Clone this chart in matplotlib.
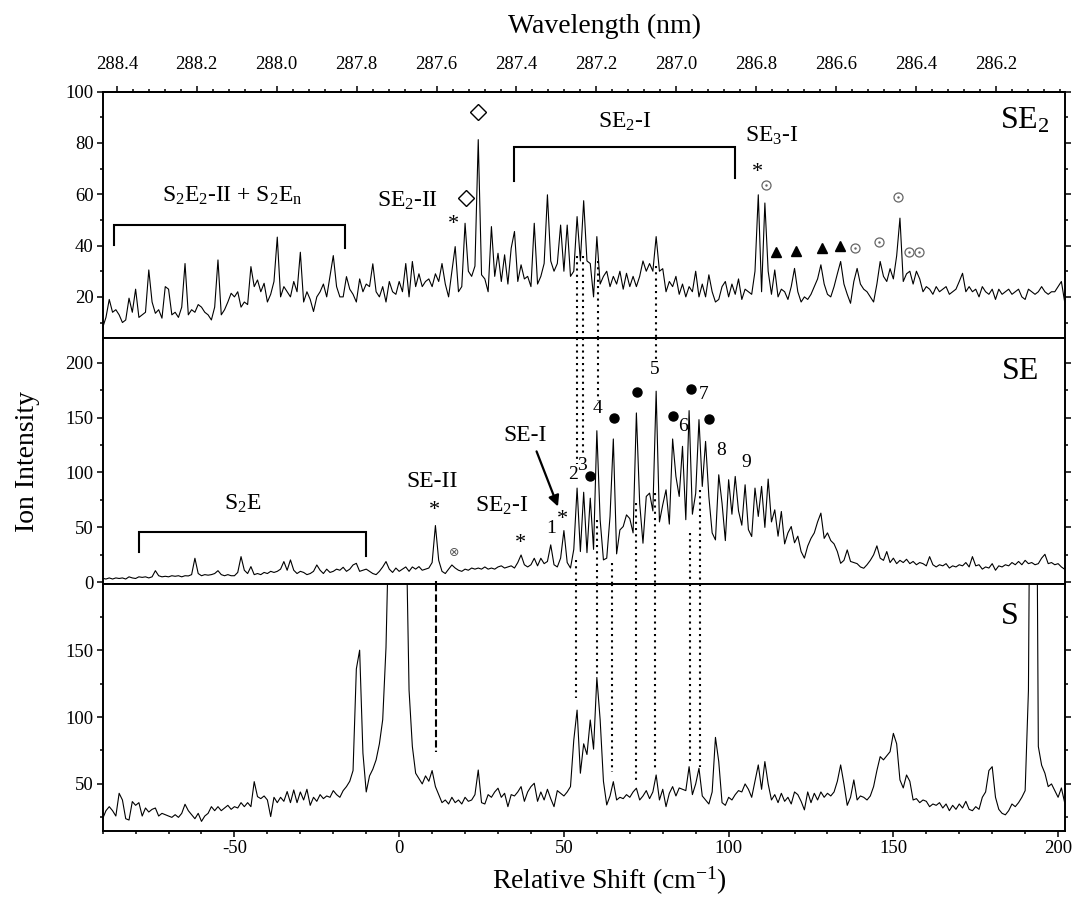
import numpy as np
import matplotlib
matplotlib.use("Agg")
import matplotlib.pyplot as plt
from matplotlib.ticker import MultipleLocator, FixedLocator, FormatStrFormatter

plt.rcParams["font.family"] = ["Liberation Serif", "DejaVu Serif"]
plt.rcParams["mathtext.fontset"] = "custom"
plt.rcParams["mathtext.rm"] = "Liberation Serif"
plt.rcParams["mathtext.it"] = "Liberation Serif:italic"
plt.rcParams["mathtext.default"] = "regular"
plt.rcParams["axes.unicode_minus"] = False

# relative shift grid (cm-1), one sample per wavenumber from -90 to 202
shift = np.arange(-90, 203)

# SE2 cluster spectrum
se2 = [
    8, 12, 19, 14, 15, 13, 10, 11, 19.5, 14,            # -90
    23, 12, 13, 14, 30.5, 18, 13.6, 15, 11.7, 24,       # -80
    23, 13, 14, 12, 16, 33, 13, 15, 14, 17,             # -70
    16, 14, 13, 11, 16, 34.4, 13, 15, 18, 21.4,         # -60
    20, 22, 16, 18, 17, 31.8, 24, 26.6, 22, 25.3,       # -50
    18, 21, 26, 43.3, 20, 24, 22, 20, 26, 22,           # -40
    37.4, 18, 22, 19, 14.3, 20, 22, 25, 20, 28,         # -30
    36.1, 24, 20, 20, 27.9, 23, 21, 18, 27, 22,         # -20
    25, 24, 32.9, 22, 20, 24, 18, 26, 22, 21,           # -10
    26, 22, 33, 20, 33.8, 24, 29, 24, 26, 27,           # 0
    24, 29, 26, 33, 25, 20, 30, 39.6, 22, 24,           # 10
    48.7, 30, 28, 32, 81.3, 28.6, 27, 22, 47.4, 28,     # 20
    37, 26, 36.4, 25, 39, 45.5, 26, 32.5, 27, 28,       # 30
    24, 48.7, 25, 28, 33, 59.8, 34, 30, 33, 48,         # 40
    30, 48, 28, 30, 51.3, 34, 57.5, 34, 33, 20,         # 50
    43.5, 25, 28, 30, 24, 28, 25, 30, 23, 29.2,         # 60
    24, 28, 24, 28, 34, 30, 33, 30, 43.5, 30,           # 70
    31, 22, 26, 24, 28, 21, 25, 20, 24, 22,             # 80
    30, 20, 25, 20, 28.6, 22, 18, 19, 24, 26,           # 90
    20, 25, 21, 27, 19, 23, 22, 21, 30, 59.8,           # 100
    22, 56.6, 30, 21, 30.5, 20, 23, 22, 19, 24,         # 110
    31.1, 22, 18, 20, 19, 21, 24, 27, 32.5, 25,         # 120
    21, 20, 24, 29, 33.8, 25, 21, 17.5, 26, 31.1,       # 130
    25, 23, 22, 20, 18, 25, 33.8, 28, 26, 31,           # 140
    27, 36, 50.7, 26, 29, 30, 25, 30, 27, 22,           # 150
    24, 23, 21, 24, 22, 23, 24, 21, 22, 23,             # 160
    26, 29.2, 22, 24, 22, 23, 20, 24, 22, 21,           # 170
    23, 19, 23, 21, 22, 23, 21, 22, 23, 20,             # 180
    19, 23, 22, 21, 22, 24, 22, 21, 22, 22,             # 190
    24, 26, 18,                                         # 200
]

# SE cluster spectrum
se = [
    3.6, 3, 4, 3, 4, 3.5, 4, 3, 5, 4,                   # -90
    3.5, 5, 4.5, 5, 4, 5, 10.6, 6, 5, 5.5,              # -80
    5, 6, 5.5, 6, 5, 6, 5.8, 7, 21.9, 8,                # -70
    6, 7, 6.5, 7, 8, 10.6, 7, 6, 7, 6,                  # -60
    6, 9, 23.4, 11, 8, 14.3, 7, 8, 7, 9,                # -50
    8, 10, 9, 10, 12, 18.9, 11, 20.4, 11, 8,            # -40
    10, 9, 7, 8, 10, 15.8, 11, 8, 12, 9,                # -30
    10, 12, 11, 13.7, 10, 12, 15.8, 17.3, 10, 11,       # -20
    12, 10, 8, 7, 10, 14, 18.9, 12, 9, 13,              # -10
    10, 12, 14, 10, 14, 12, 14.3, 11, 12, 13,           # 0
    18, 51.7, 20, 10, 8, 12, 15.8, 13, 11, 10,          # 10
    12, 11, 13, 12, 13, 12, 14, 12, 13, 12,             # 20
    14, 15, 13, 14, 15, 13, 18, 24.9, 16, 14,           # 30
    16, 21.9, 15, 21.9, 17, 19, 34.1, 16, 14, 22,       # 40
    47.1, 18, 13, 30, 85.8, 28, 82, 27, 76.6, 30,       # 50
    138, 56.9, 20.4, 22, 60, 130.5, 25.9, 47.7, 50.8, 61.4,   # 60
    58, 45, 154.2, 72, 35.6, 78.2, 81.2, 65, 174, 55,   # 70
    70.6, 84.2, 53, 130.5, 96.4, 78.2, 123.8, 57, 156.3, 62,  # 80
    81, 148.1, 87.3, 128.3, 78, 45, 38.6, 97.9, 72, 38,       # 90
    93.4, 62, 96.4, 65, 52, 88.8, 48, 41.7, 85.8, 60,   # 100
    87.3, 50, 94, 55, 66, 42, 64.5, 35, 45, 50.8,       # 110
    36, 42, 28, 22, 33, 40, 45, 55, 63, 40,             # 120
    45, 38, 35, 28, 17.3, 20, 29.5, 19, 18, 17,         # 130
    14, 12.8, 16, 20, 25, 33.2, 22, 20, 28, 18,         # 140
    22, 17, 20, 18, 21, 17, 19, 16, 18, 17,             # 150
    15, 23.4, 16, 14, 16, 15, 17, 13, 15, 14,           # 160
    16, 15, 18, 14, 23.4, 15, 16, 12, 14, 13,           # 170
    17, 11, 15, 14, 16, 15, 18, 16, 19, 16,             # 180
    20, 17, 18, 16, 17, 22, 25.5, 17, 18, 16,           # 190
    17, 14, 11.9,                                       # 200
]

# S monomer spectrum (peaks at 0 and 192 run off scale)
s_mono = [
    24, 30, 33, 30, 26, 43, 38, 24, 23, 36.8,           # -90
    34, 36, 26, 32, 29, 31, 32, 26, 28, 27,             # -80
    26, 25, 27, 25, 28, 34.8, 30, 27, 24, 28,           # -70
    22, 26, 28, 33, 30, 33, 30, 32, 34, 31,             # -60
    33, 32, 36, 33, 36, 33, 51.7, 40.5, 39, 41,         # -50
    38, 25.6, 40, 36, 40, 37, 44.3, 36, 45.5, 36,       # -40
    44, 38, 46, 34, 40, 37, 42, 39, 41, 40,             # -30
    45, 42, 40, 45, 48, 52, 60, 136, 150, 73,           # -20
    44, 56, 61, 68, 80, 98, 152, 260, 500, 800,         # -10
    900, 700, 260, 120, 78, 58, 54, 50, 56, 52,         # 0
    60, 48, 42, 36, 38, 35, 40, 36, 38, 35,             # 10
    40, 37, 38, 42, 60.4, 36, 35, 42, 40, 44,           # 20
    46.8, 40, 43, 33, 42, 41, 44, 48, 37, 44,           # 30
    48, 50.5, 37, 44, 38, 46, 39, 33, 45, 43,           # 40
    41, 44, 48, 82.8, 105.2, 58, 80, 72, 97.8, 76,      # 50
    129.6, 98, 52, 34.3, 41, 51.7, 38, 40, 39, 42,      # 60
    40, 44, 46.8, 38, 41, 45, 39, 44, 56.7, 38,         # 70
    46, 33, 43, 48, 41, 47, 46, 45, 62.9, 42,           # 80
    50, 61.7, 41, 38, 35, 44, 84.8, 66.7, 36, 34,       # 90
    40, 38, 42, 45, 44, 50, 46, 40, 52, 64.2,           # 100
    46, 66.7, 50, 38, 42, 36, 43, 37, 40, 35,           # 110
    44, 42, 37, 30.6, 44, 36, 43, 38, 44, 40,           # 120
    43, 41, 44, 52, 64.2, 50, 34, 40, 53, 38,           # 130
    41, 40, 38, 41, 48, 60, 70.4, 68, 71, 74.1,         # 140
    87.8, 80, 53, 47, 56.7, 52, 38, 39, 36, 38,         # 150
    37, 33, 35, 34, 36, 32, 35, 30, 34, 31,             # 160
    35, 32, 37, 31, 30, 33, 31, 40, 44, 60,             # 170
    62.9, 40, 31, 28, 26.9, 30, 35, 33, 36, 40,         # 180
    45, 120, 500, 500, 78, 64, 58, 48, 50, 45,          # 190
    40, 47, 36,                                         # 200
]

# wavelength ticks for the top axis (nm)
nm_ticks = [288.4, 288.2, 288.0, 287.8, 287.6, 287.4, 287.2, 287.0,
            286.8, 286.6, 286.4, 286.2]

# peak markers (shift, intensity)
diamond_x, diamond_y = [20.2, 23.8], [58.4, 91.9]
triangle_x = [114.5, 120.3, 128.2, 133.9]
triangle_y = [37.4, 38.0, 38.9, 39.8]
ring_x = [111.2, 138.3, 145.6, 151.3, 154.7, 157.9]
ring_y = [63.7, 39.0, 41.3, 58.9, 37.6, 37.4]
dot_x = [58.0, 65.2, 72.2, 83.1, 88.5, 93.9]
dot_y = [96.4, 149.6, 173.6, 151.7, 176.4, 149.0]

# numbered SE progression labels (text, shift, baseline)
se_numbers = [("1", 46.2, 45.3), ("2", 52.8, 94.3), ("3", 55.5, 102.6),
              ("4", 60.1, 153.7), ("5", 77.6, 190.0), ("6", 86.1, 137.5),
              ("7", 92.4, 166.5), ("8", 97.8, 115.6), ("9", 105.2, 104.7)]

# correlation lines between the panels
top_link_x = [54.0, 55.8, 60.4, 78.1]
top_link_from = [36, 36, 34, 32]
top_link_to = [108, 115, 165, 200]
mid_link_x = [53.6, 60.1, 64.5, 72.0, 77.6, 88.4, 91.2]
mid_link_from = [20, 57, 17.6, 72.3, 81.4, 45, 84.2]
mid_link_to = [114, 130, 59, 53, 62, 64, 63]
dash_x, dash_to = 11.1, 74

XMIN, XMAX = -90, 202
DOT = (0, (1, 2))
DASH = (0, (3.5, 1.5))
TICK_FS = 13.5


def shift_to_nm(s):
    return 288.4 - (np.asarray(s) + 85.71) / 121.32


def nm_to_shift(lam):
    return (288.4 - np.asarray(lam)) * 121.32 - 85.71


def style_axis(ax, ylim, major, minor, last=False):
    ax.set_xlim(XMIN, XMAX)
    ax.set_ylim(*ylim)
    ax.xaxis.set_major_locator(MultipleLocator(50))
    ax.xaxis.set_minor_locator(MultipleLocator(10))
    ax.yaxis.set_major_locator(MultipleLocator(major))
    ax.yaxis.set_minor_locator(MultipleLocator(minor))
    ax.yaxis.set_major_formatter(FormatStrFormatter("%d"))
    for sp in ax.spines.values():
        sp.set_linewidth(1.4)
    ax.tick_params(which="both", direction="out", left=True, right=True,
                   bottom=True, top=False, width=1.1, labelsize=TICK_FS,
                   labelbottom=last, pad=2)
    ax.tick_params(which="major", length=4.5)
    ax.tick_params(which="minor", length=2.5)


def bracket(ax, x0, x1, top, left_foot, right_foot):
    ax.plot([x0, x0, x1, x1], [left_foot, top, top, right_foot],
            color="k", lw=1.5, solid_joinstyle="miter")


fig = plt.figure(figsize=(10.75, 8.98), dpi=100)
L, W = 0.0955, 0.8949
ax_top = fig.add_axes([L, 0.6237, W, 0.2742])
ax_mid = fig.add_axes([L, 0.3497, W, 0.2740])
ax_bot = fig.add_axes([L, 0.0749, W, 0.2748])

for ax, vals in ((ax_top, se2), (ax_mid, se), (ax_bot, s_mono)):
    ax.plot(shift, vals, color="k", lw=0.8)

style_axis(ax_top, (4, 100), 20, 10)
style_axis(ax_mid, (-1.5, 222.5), 50, 25)
style_axis(ax_bot, (15, 199.5), 50, 25, last=True)

# wavelength scale along the top
sec = ax_top.secondary_xaxis("top", functions=(shift_to_nm, nm_to_shift))
sec.xaxis.set_major_locator(FixedLocator(nm_ticks))
sec.xaxis.set_minor_locator(FixedLocator(np.arange(286.04, 288.45, 0.04)))
sec.xaxis.set_major_formatter(FormatStrFormatter("%.1f"))
sec.tick_params(which="both", direction="out", width=1.1, labelsize=TICK_FS, pad=9)
sec.tick_params(which="major", length=4.5)
sec.tick_params(which="minor", length=2.5)
sec.spines["top"].set_linewidth(1.4)

# --- SE2 panel ---
ax_top.text(190, 85.8, "SE$_2$", fontsize=23, ha="center", va="baseline")
bracket(ax_top, -86.7, -16.5, 48.1, 40.3, 39.0)
bracket(ax_top, 34.8, 101.8, 78.4, 65.0, 66.3)
ax_top.text(-50.5, 57.2, "S$_2$E$_2$-II + S$_2$E$_n$", fontsize=17, ha="center", va="baseline")
ax_top.text(2.5, 55.2, "SE$_2$-II", fontsize=17, ha="center", va="baseline")
ax_top.text(68.4, 85.8, "SE$_2$-I", fontsize=17, ha="center", va="baseline")
ax_top.text(113, 80.6, "SE$_3$-I", fontsize=17, ha="center", va="baseline")
ax_top.text(16.4, 46.4, "*", fontsize=16, ha="center", va="baseline")
ax_top.text(108.7, 66.6, "*", fontsize=16, ha="center", va="baseline")
ax_top.plot(diamond_x, diamond_y, "D", mfc="none", mec="k", mew=1.0, ms=8)
ax_top.plot(triangle_x, triangle_y, "^", color="k", ms=7)
ax_top.plot(ring_x, ring_y, "o", mfc="none", mec="#666666", mew=0.9, ms=6.5)
ax_top.plot(ring_x, ring_y, ".", color="#666666", ms=1.5)

# --- SE panel ---
ax_mid.text(188.5, 185.4, "SE", fontsize=23, ha="center", va="baseline")
bracket(ax_mid, -78.9, -10.2, 46.2, 27.9, 24.3)
ax_mid.text(-47.6, 66, "S$_2$E", fontsize=17, ha="center", va="baseline")
ax_mid.text(10.0, 86.4, "SE-II", fontsize=17, ha="center", va="baseline")
ax_mid.text(31.2, 64.5, "SE$_2$-I", fontsize=17, ha="center", va="baseline")
ax_mid.text(38.3, 128.4, "SE-I", fontsize=17, ha="center", va="baseline")
ax_mid.annotate("", xy=(48.2, 69), xytext=(41.7, 119.2),
                arrowprops=dict(arrowstyle="-|>", color="k", lw=1.6,
                                mutation_scale=16, shrinkA=0, shrinkB=0))
for sx, sy in ((10.8, 61.5), (36.8, 31.0), (49.7, 53.0)):
    ax_mid.text(sx, sy, "*", fontsize=16, ha="center", va="baseline")
ax_mid.text(16.6, 27.4, "\u2297", family="DejaVu Sans", fontsize=9,
            color="#555555", ha="center", va="center")
ax_mid.plot(dot_x, dot_y, "o", color="k", ms=6.5)
for label, sx, sy in se_numbers:
    ax_mid.text(sx, sy, label, fontsize=14, ha="center", va="baseline")

# --- S panel ---
ax_bot.text(185.2, 169.2, "S", fontsize=23, ha="center", va="baseline")

# dotted correlation lines SE2 -> SE
for x, y0, y1 in zip(top_link_x, top_link_from, top_link_to):
    ax_top.plot([x, x], [y0, ax_top.get_ylim()[0]], color="k", lw=1.5, ls=DOT)
    ax_mid.plot([x, x], [ax_mid.get_ylim()[1], y1], color="k", lw=1.5, ls=DOT)

# dotted correlation lines SE -> S
for x, y0, y1 in zip(mid_link_x, mid_link_from, mid_link_to):
    ax_mid.plot([x, x], [y0, ax_mid.get_ylim()[0]], color="k", lw=1.5, ls=DOT)
    ax_bot.plot([x, x], [ax_bot.get_ylim()[1], y1], color="k", lw=1.5, ls=DOT)

# dashed line for SE-II
ax_mid.plot([dash_x, dash_x], [1, ax_mid.get_ylim()[0]], color="k", lw=1.5, ls=DASH)
ax_bot.plot([dash_x, dash_x], [ax_bot.get_ylim()[1], dash_to], color="k", lw=1.5, ls=DASH)

fig.text(604 / 1075, 1 - 33 / 898, "Wavelength (nm)", fontsize=20,
         ha="center", va="baseline")
fig.text(609 / 1075, 1 - 889 / 898, "Relative Shift (cm$^{-1}$)", fontsize=20,
         ha="center", va="baseline")
fig.text(28 / 1075, 1 - 461.5 / 898, "Ion Intensity", fontsize=20,
         rotation=90, ha="center", va="center")

fig.savefig("out.png", dpi=100)
plt.close(fig)
